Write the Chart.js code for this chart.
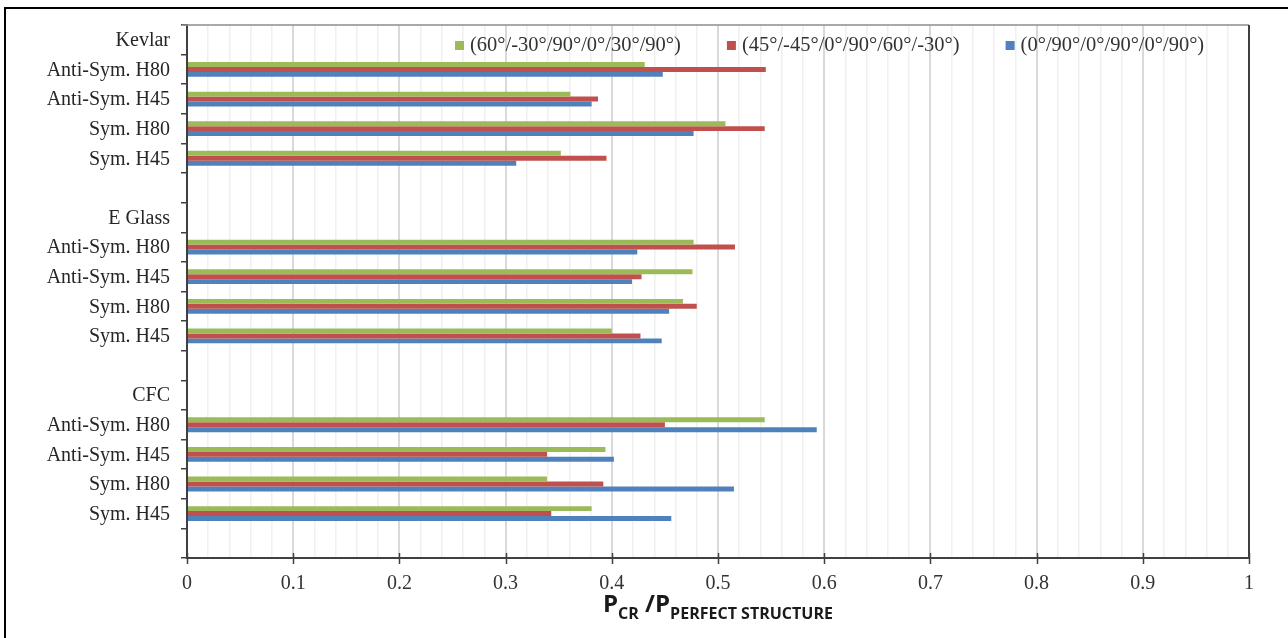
<!DOCTYPE html>
<html>
<head>
<meta charset="utf-8">
<script src="https://cdn.jsdelivr.net/npm/chart.js@4"></script>
<style>
  html, body { margin: 0; padding: 0; background: #fff; }
  .wrap { position: relative; width: 1288px; height: 638px; }
  .frame { position: absolute; left: 4px; top: 7px; right: 0; bottom: 0;
           border-left: 2px solid #000; border-top: 2px solid #000; pointer-events: none; }
</style>
</head>
<body>
<div class="wrap">
  <canvas id="chart" width="1288" height="638"></canvas>
  <div class="frame"></div>
</div>
<script>
// rows, top to bottom (group headers and spacer rows have no bars)
const categories = [
  'Kevlar', 'Anti-Sym. H80', 'Anti-Sym. H45', 'Sym. H80', 'Sym. H45', '',
  'E Glass', 'Anti-Sym. H80', 'Anti-Sym. H45', 'Sym. H80', 'Sym. H45', '',
  'CFC', 'Anti-Sym. H80', 'Anti-Sym. H45', 'Sym. H80', 'Sym. H45', ''
];
const seriesLabels = [
  '(60°/-30°/90°/0°/30°/90°)',
  '(45°/-45°/0°/90°/60°/-30°)',
  '(0°/90°/0°/90°/0°/90°)'
];
const layup60 = [null, 0.431, 0.361, 0.507, 0.352, null,
                 null, 0.477, 0.476, 0.467, 0.400, null,
                 null, 0.544, 0.394, 0.339, 0.381, null];
const layup45 = [null, 0.545, 0.387, 0.544, 0.395, null,
                 null, 0.516, 0.428, 0.480, 0.427, null,
                 null, 0.450, 0.339, 0.392, 0.343, null];
const layup0 = [null, 0.448, 0.381, 0.477, 0.310, null,
                null, 0.424, 0.419, 0.454, 0.447, null,
                null, 0.593, 0.402, 0.515, 0.456, null];
const xTicks = ['0', '0.1', '0.2', '0.3', '0.4', '0.5', '0.6', '0.7', '0.8', '0.9', '1'];

const colors = ['#9bbb59', '#c0504d', '#4f81bd'];
const serif = '"Liberation Serif", "Times New Roman", serif';
const isMajor = (v) => Math.round(v * 100) % 10 === 0;

// legend inside the plot, axis title with subscripts, plot frame
const extras = {
  id: 'extras',
  afterDraw(chart) {
    const ctx = chart.ctx;
    const area = chart.chartArea;
    const xs = chart.scales.x;
    ctx.save();

    // top and right edges of the plot area
    ctx.strokeStyle = '#8c8c8c';
    ctx.lineWidth = 1.5;
    ctx.beginPath();
    ctx.moveTo(area.left - 5, area.top);
    ctx.lineTo(area.right, area.top);
    ctx.stroke();
    ctx.strokeStyle = '#404040';
    ctx.lineWidth = 2;
    ctx.beginPath();
    ctx.moveTo(area.right, area.top);
    ctx.lineTo(area.right, area.bottom);
    ctx.stroke();

    // cross tick marks on the value axis
    ctx.lineWidth = 1.5;
    xs.ticks.forEach((t) => {
      if (!isMajor(t.value)) return;
      const px = Math.round(xs.getPixelForValue(t.value)) + 0.5;
      ctx.beginPath();
      ctx.moveTo(px, area.bottom - 5);
      ctx.lineTo(px, area.bottom + 6);
      ctx.stroke();
    });

    // legend
    ctx.font = '20.5px ' + serif;
    ctx.textBaseline = 'middle';
    ctx.textAlign = 'left';
    let x = 455;
    chart.data.datasets.forEach((ds) => {
      ctx.fillStyle = ds.backgroundColor;
      ctx.fillRect(x, 41, 9, 9);
      ctx.fillStyle = '#333';
      ctx.fillText(ds.label, x + 15, 46);
      x += 15 + ctx.measureText(ds.label).width + 46;
    });

    // axis title  P_CR /P_PERFECT STRUCTURE
    const parts = [
      { t: 'P', f: 'bold 24px "Open Sans", sans-serif', y: 612 },
      { t: 'CR', f: 'bold 16px "Open Sans", sans-serif', y: 619 },
      { t: ' /P', f: 'bold 24px "Open Sans", sans-serif', y: 612 },
      { t: 'PERFECT STRUCTURE', f: 'bold 16px "Open Sans", sans-serif', y: 619 }
    ];
    let w = 0;
    parts.forEach((p) => { ctx.font = p.f; p.w = ctx.measureText(p.t).width; w += p.w; });
    ctx.translate(603, 0);
    ctx.scale(230 / w, 1);
    ctx.fillStyle = '#1a1a1a';
    ctx.textBaseline = 'alphabetic';
    let cx = 0;
    parts.forEach((p) => { ctx.font = p.f; ctx.fillText(p.t, cx, p.y); cx += p.w; });
    ctx.restore();
  }
};

new Chart(document.getElementById('chart'), {
  type: 'bar',
  data: {
    labels: categories,
    datasets: [
      { label: seriesLabels[0], data: layup60, backgroundColor: colors[0] },
      { label: seriesLabels[1], data: layup45, backgroundColor: colors[1] },
      { label: seriesLabels[2], data: layup0, backgroundColor: colors[2] }
    ]
  },
  options: {
    indexAxis: 'y',
    responsive: false,
    animation: false,
    layout: { padding: { top: 25, right: 39, left: 0, bottom: 0 } },
    datasets: { bar: { categoryPercentage: 0.5, barPercentage: 1.0, borderWidth: 0 } },
    scales: {
      x: {
        type: 'linear',
        min: 0,
        max: 1,
        ticks: {
          stepSize: 0.02,
          maxTicksLimit: 100,
          autoSkip: false,
          maxRotation: 0,
          padding: 14,
          color: '#333',
          font: { family: serif, size: 20 },
          callback: (v) => isMajor(v) ? xTicks[Math.round(v * 10)] : ''
        },
        grid: {
          drawTicks: false,
          color: (c) => isMajor(c.tick.value) ? '#d9d9d9' : '#f0f0f0',
          lineWidth: (c) => isMajor(c.tick.value) ? 2 : 1.5
        },
        border: { color: '#404040', width: 2 },
        afterFit: (s) => { s.height = 80; }
      },
      y: {
        type: 'category',
        ticks: {
          autoSkip: false,
          padding: 11,
          labelOffset: 1,
          color: '#262626',
          font: { family: serif, size: 20 }
        },
        grid: {
          offset: true,
          drawOnChartArea: false,
          drawTicks: true,
          tickLength: 6,
          color: '#404040',
          lineWidth: 1.5
        },
        border: { color: '#404040', width: 2 },
        afterFit: (s) => { s.width = 187; }
      }
    },
    plugins: {
      legend: { display: false },
      tooltip: { enabled: false }
    }
  },
  plugins: [extras]
});
</script>
</body>
</html>
